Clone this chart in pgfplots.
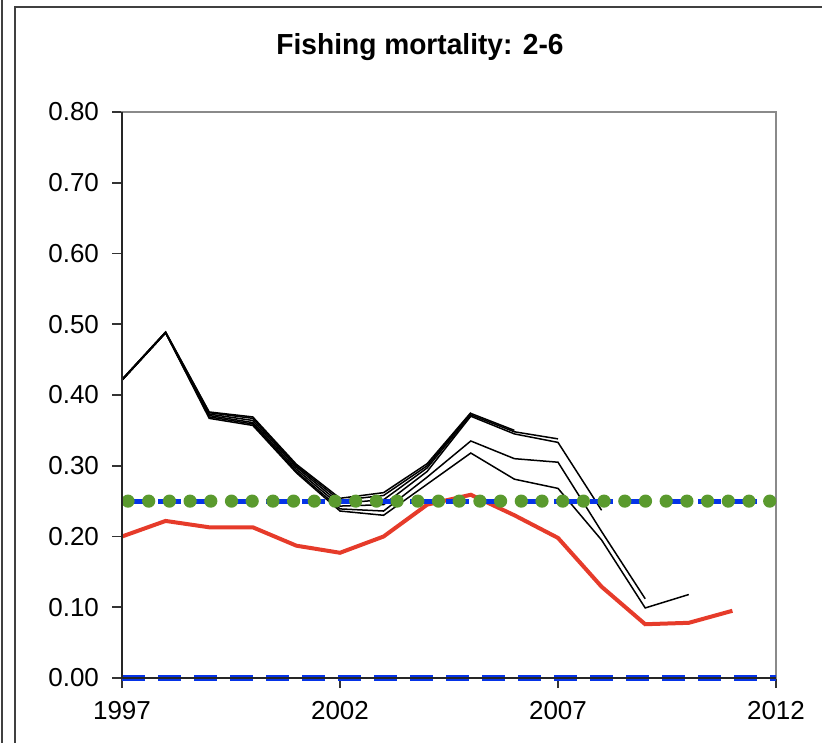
\documentclass[border=0pt]{standalone}
\usepackage{fontspec}
\setmainfont{Liberation Sans}
\usepackage{pgfplots}
\pgfplotsset{compat=1.18}
\definecolor{redline}{HTML}{E63B2A}
\definecolor{blueline}{HTML}{0533E8}
\definecolor{greendot}{HTML}{5A9A2E}
\definecolor{boxgray}{HTML}{8A8A8A}
\begin{document}
\begin{tikzpicture}
\useasboundingbox (0,0) rectangle (411bp,371.5bp);
% outer frames
\draw[line width=1bp, black!75] (1bp,-5bp) -- (1bp,380bp);
\draw[line width=1bp, black!75] (7.5bp,-5bp) -- (7.5bp,368bp) -- (420bp,368bp);
\node[font=\bfseries\fontsize{14.5bp}{17bp}\selectfont, xscale=0.97] at (210bp,348bp) {Fishing mortality: 2-6};
\begin{axis}[
  at={(61bp,32.5bp)}, anchor=south west,
  scale only axis, width=327bp, height=283bp,
  xmin=1997, xmax=2012, ymin=0, ymax=0.8,
  xtick={1997,2002,2007,2012},
  ytick={0,0.1,0.2,0.3,0.4,0.5,0.6,0.7,0.8},
  tick pos=left, tick align=outside,
  major tick length=5bp,
  tick style={black!80, line width=0.8bp},
  axis line style={boxgray, line width=0.8bp},
  yticklabel style={/pgf/number format/fixed, /pgf/number format/precision=2, /pgf/number format/fixed zerofill, xshift=-3bp},
  xticklabel style={/pgf/number format/1000 sep={}, yshift=-3bp},
  /pgf/number format/assume math mode=true,
  ticklabel style={font=\fontsize{13bp}{15bp}\selectfont},
  every tick label/.append style={text=black},
  clip=false,
]
% retrospective runs (black)
\addplot[black, line width=0.75bp] coordinates {
(1997,0.421)(1998,0.488)(1999,0.367)(2000,0.357)(2001,0.290)(2002,0.236)(2003,0.230)(2004,0.274)(2005,0.318)(2006,0.281)(2007,0.268)(2008,0.195)(2009,0.099)(2010,0.118)};
\addplot[black, line width=0.75bp] coordinates {
(1997,0.421)(1998,0.488)(1999,0.369)(2000,0.359)(2001,0.292)(2002,0.239)(2003,0.236)(2004,0.284)(2005,0.335)(2006,0.310)(2007,0.305)(2008,0.207)(2009,0.112)};
\addplot[black, line width=0.75bp] coordinates {
(1997,0.421)(1998,0.488)(1999,0.371)(2000,0.361)(2001,0.295)(2002,0.243)(2003,0.245)(2004,0.292)(2005,0.370)(2006,0.345)(2007,0.333)(2008,0.237)};
\addplot[black, line width=0.75bp] coordinates {
(1997,0.421)(1998,0.488)(1999,0.373)(2000,0.364)(2001,0.298)(2002,0.247)(2003,0.252)(2004,0.297)(2005,0.372)(2006,0.348)(2007,0.338)};
\addplot[black, line width=0.75bp] coordinates {
(1997,0.422)(1998,0.489)(1999,0.375)(2000,0.367)(2001,0.300)(2002,0.251)(2003,0.258)(2004,0.300)(2005,0.374)(2006,0.350)};
\addplot[black, line width=0.75bp] coordinates {
(1997,0.422)(1998,0.489)(1999,0.376)(2000,0.369)(2001,0.302)(2002,0.254)(2003,0.262)(2004,0.303)(2005,0.375)};
% red line
\addplot[redline, line width=2bp] coordinates {
(1997,0.200)(1998,0.222)(1999,0.213)(2000,0.213)(2001,0.187)(2002,0.177)(2003,0.200)(2004,0.245)(2005,0.259)(2006,0.230)(2007,0.198)(2008,0.129)(2009,0.076)(2010,0.078)(2011,0.095)};
% reference lines
\addplot[blueline, line width=2.6bp, dash pattern=on 11.5bp off 6.5bp] coordinates {(1997,0.25)(2012,0.25)};
\addplot[blueline, line width=2.6bp, dash pattern=on 11.5bp off 6.5bp] coordinates {(1997,0)(2012,0)};
\addplot[greendot, line width=6.6bp, line cap=round, dash pattern=on 0bp off 10.35bp, dash phase=-3bp] coordinates {(1997,0.25)(2012,0.25)};
\draw[black!85, line width=0.8bp] (rel axis cs:0,1) -- (rel axis cs:0,0) -- (rel axis cs:1,0);
\end{axis}
\end{tikzpicture}
\end{document}
